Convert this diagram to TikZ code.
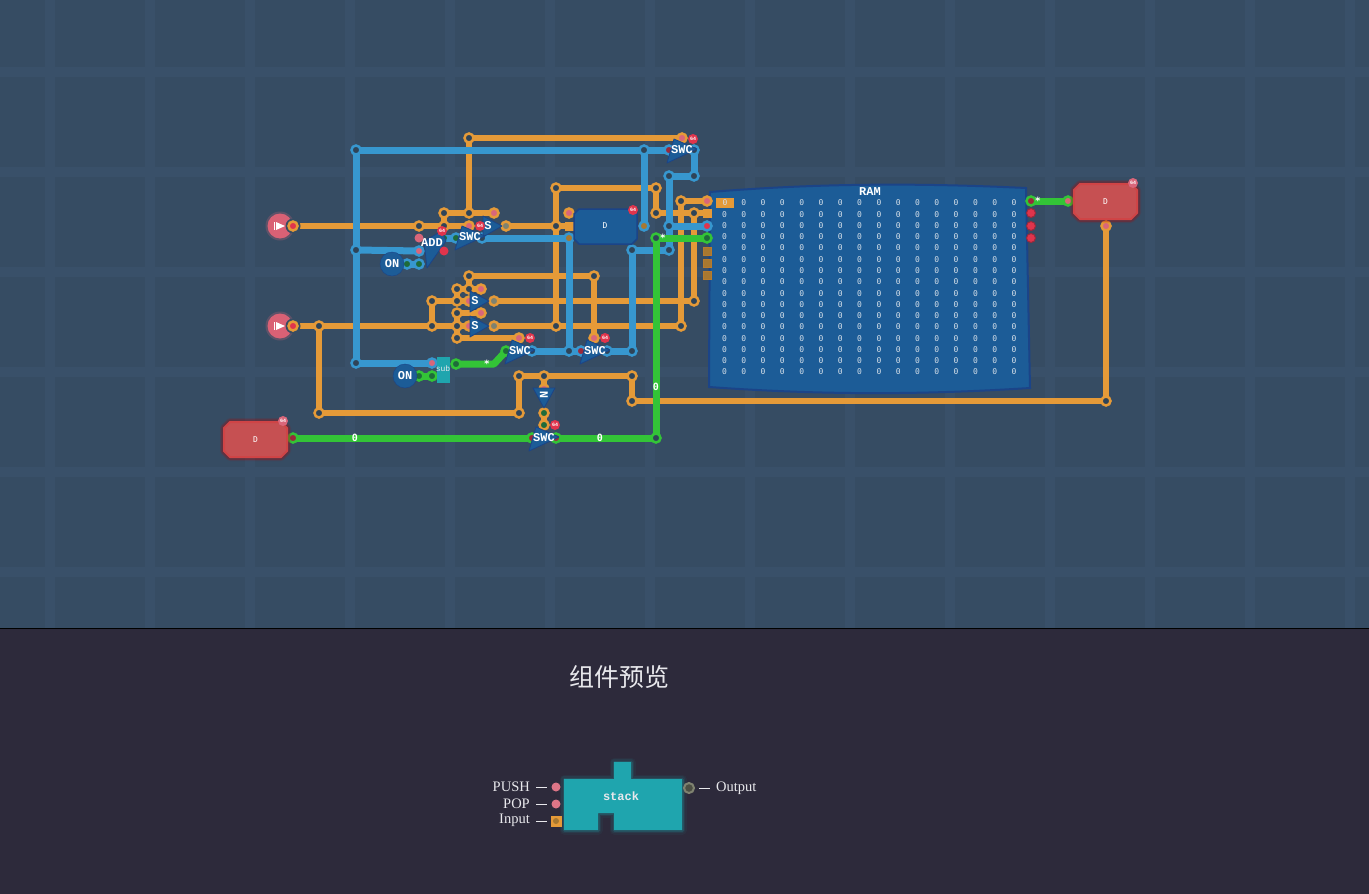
\documentclass[tikz,border=0pt]{standalone}
\usepackage{fontspec}
\newfontfamily\labelfont{Liberation Mono}
\newfontfamily\cellfont{DejaVu Sans Mono}
\newfontfamily\legendfont{Liberation Serif}
\newfontfamily\cjkfont{Noto Sans CJK SC}
\pgfdeclarelayer{grid}
\pgfdeclarelayer{wires}
\pgfsetlayers{grid,wires,main}
\definecolor{boardbg}{HTML}{364C63}
\definecolor{boardband}{HTML}{395069}
\definecolor{panelbg}{HTML}{2D2A3B}
\definecolor{wireorange}{HTML}{E59A38}
\definecolor{wireblue}{HTML}{3797CF}
\definecolor{wiregreen}{HTML}{33C437}
\definecolor{gateblue}{HTML}{1C5C97}
\definecolor{gateedge}{HTML}{1B4488}
\definecolor{blockred}{HTML}{C65052}
\definecolor{blockteal}{HTML}{1FA5AE}
\definecolor{pindark}{HTML}{2F4458}
\definecolor{pinpink}{HTML}{D9667A}
\definecolor{pinred}{HTML}{E0344C}
\definecolor{pinmaroon}{HTML}{9A2A3C}
\definecolor{pingreen}{HTML}{1E6B3A}
\definecolor{pingray}{HTML}{7F8270}
\definecolor{pinbrown}{HTML}{A87830}
\definecolor{textsoft}{HTML}{E8E8EC}
\tikzset{
	pinbase/.style={circle, inner sep=0pt, minimum size=9pt, line width=2.5pt},
	orpin/.style={pinbase, draw=wireorange, fill=#1},
	blpin/.style={pinbase, draw=wireblue, fill=#1},
	grpin/.style={pinbase, draw=wiregreen, fill=#1},
	wirebase/.style={shorten >=-3pt, shorten <=-3pt},
	orwire/.style={wirebase, draw=wireorange, line width=6pt},
	blwire/.style={wirebase, draw=wireblue, line width=7pt},
	grwire/.style={wirebase, draw=wiregreen, line width=7pt, line join=round},
	orsquare/.style={rectangle, inner sep=0pt, minimum size=9pt, fill=#1},
	baredot/.style={circle, inner sep=0pt, minimum size=9pt, fill=#1},
	badge/.style={circle, inner sep=0pt, minimum size=10pt, fill=pinred, text=white, font=\labelfont\bfseries\fontsize{5}{5}\selectfont},
	gatelabel/.style={inner sep=0pt, text=white, font=\labelfont\bfseries\fontsize{12}{12}\selectfont},
	wirelabel/.style={inner sep=0pt, text=white, font=\cellfont\bfseries\fontsize{10}{10}\selectfont},
	cell/.style={inner sep=0pt, text=textsoft!90!wireblue, font=\cellfont\fontsize{8}{8}\selectfont},
	legend/.style={inner sep=0pt, text=textsoft, font=\legendfont\fontsize{14.5}{15}\selectfont},
	gatefill/.style={fill=gateblue, draw=gateedge, line width=0.8pt, line join=round},
	swcgate/.pic={
		\path[gatefill] (-8,-11) -- (15,-1) -- (-15,13) -- cycle;
		\node[gatelabel] (-label) at (0,0) {#1};
	},
	sgate/.pic={
		\path[gatefill] (-5,-10) -- (14,0) -- (-5,11) -- cycle;
		\node[gatelabel] (-label) at (0,0) {#1};
	},
	redblock/.pic={
		\foreach \w/\o in {8/0.12, 5.5/0.25}{
			\draw[red!70!black, opacity=\o, line width=\w pt, line join=round] (-25.5,-17.5) -- (25.5,-17.5) -- (31.5,-11.5) -- (31.5,11.5) -- (25.5,17.5) -- (-25.5,17.5) -- (-31.5,11.5) -- (-31.5,-11.5) -- cycle;
		}
		\path[fill=blockred, draw=blockred!85!red, line width=2pt, line join=round] (-25.5,-17.5) -- (25.5,-17.5) -- (31.5,-11.5) -- (31.5,11.5) -- (25.5,17.5) -- (-25.5,17.5) -- (-31.5,11.5) -- (-31.5,-11.5) -- cycle;
		\node[cell, text=white] (-label) at (0,0) {D};
	}
}
\begin{document}
\begin{tikzpicture}[x=1pt, y=-1pt]
	\useasboundingbox (0,0) rectangle (1369,894);
	%board
	\begin{pgfonlayer}{grid}
		\fill[boardbg] (0,0) rectangle (1369,629);
		\foreach \x in {50, 150, ..., 1350}{
			\fill[boardband] (\x-5,0) rectangle (\x+5,629);
		}
		\foreach \y in {72, 172, ..., 572}{
			\fill[boardband] (0,\y-5) rectangle (1369,\y+5);
		}
		\fill[panelbg] (0,629) rectangle (1369,894);
		\draw[black, line width=1pt] (0,628.5) -- (1369,628.5);
	\end{pgfonlayer}

	%ram block
	\path[fill=gateblue, draw=gateedge, line width=2pt] (710,192) .. controls (820,183) and (920,183) .. (1026,188) -- (1030,388) .. controls (920,395) and (820,395) .. (709,387) -- cycle;
	\node[gatelabel] (ramlabel) at (870,192) {RAM};
	\foreach \i in {0, 1, ..., 15}{
		\foreach \j in {0, 1, ..., 15}{
			\node[cell] (cell\i-\j) at (724.5+19.3*\i, 203+11.27*\j) {0};
		}
	}
	\node[fill=wireorange, minimum width=18pt, minimum height=10pt, inner sep=0pt] (ramcursor) at (725,203) {};
	\node[cell] (ramzero) at (725,203) {0};

	%inputs
	\foreach \name/\y in {playa/226, playb/326}{
		\fill[pinpink, opacity=0.25] (280,\y) circle (14.5);
		\node (\name) at (280,\y) [circle, fill=pinpink!90!pinred, minimum size=25pt, inner sep=0pt]{};
		\fill[boardbg] (293,\y) circle (7.5);
		\fill[white] (276,\y-4) -- (285,\y) -- (276,\y+4) -- cycle;
		\draw[white, line width=0.8pt] (274.5,\y-4) -- (274.5,\y+4);
	}

	%orange pins
	\foreach \name/\x/\y/\c in {
		ina/293/226/pinred, ob/419/226/pindark, oc/444/226/pindark, sain/469/226/pinpink,
		od/444/213/pindark, oe/469/213/pindark, satop/494/213/pinpink, of/469/138/pindark, swctop/682/138/pinpink,
		saout/506/226/pingray, og/556/226/pindark, dtop/569/213/pinpink,
		oh/556/188/pindark, oi/656/188/pindark, oj/656/213/pindark, ok/694/213/pindark, ol/681/201/pindark, ramone/707/201/pinpink,
		inb/293/326/pinred, om/319/326/pindark, on/432/326/pindark, oo/457/326/pindark, sbin/469/326/pinpink, scout/494/326/pingray,
		op/556/326/pindark, oq/681/326/pindark,
		or/432/301/pindark, os/457/301/pindark, scin/469/301/pinpink, sbout/494/301/pingray, ot/694/301/pindark,
		ou/457/289/pindark, ov/469/289/pindark, sbtop/481/289/pinpink, ow/469/276/pindark, ox/594/276/pindark, swcctop/594/338/pinpink,
		oy/457/313/pindark, sctop/481/313/pinpink, oz/457/338/pindark, swcbtop/519/338/pinpink,
		pa/319/413/pindark, pb/519/413/pindark, pc/519/376/pindark, pd/544/376/pindark, pe/632/376/pindark, pf/632/401/pindark,
		pg/1106/401/pindark, dredin/1106/226/pinpink, pi/544/389/pinpink, pj/544/413/pingreen, pk/544/425/pingreen}{
		\node (\name) at (\x,\y) [orpin=\c]{};
	}
	\node (dsquare) at (569,226) [orsquare=wireorange]{};
	\node (ramtwo) at (707,213) [orsquare=wireorange]{};
	\foreach \name/\y in {ramfive/251, ramsix/263, ramseven/275}{
		\node (\name) at (707,\y) [orsquare=pinbrown, draw=wireorange!80!black, line width=1pt, minimum size=8pt]{};
	}

	%blue pins
	\foreach \name/\x/\y/\c in {
		ba/356/150/pindark, bb/644/150/pindark, swcain/669/150/pinmaroon, swcaout/694/150/pindark,
		bc/356/250/pindark, addb/419/251/pinpink, bd/356/363/pindark, subin/432/363/pinpink,
		be/644/226/pinbrown, bf/694/176/pindark, bg/669/176/pindark, bh/669/226/pindark, ramthree/707/226/pinred,
		bi/669/250/pindark, bj/632/250/pindark, bk/632/351/pindark, swccout/607/351/pindark, swccin/581/351/pinmaroon,
		bl/569/351/pindark, swcbout/532/351/pindark, dbot/569/238/pinbrown, swcdout/482/238/pindark,
		addout/456/238/pingreen, onaout/407/264/pingreen, addc/419/264/pingreen}{
		\node (\name) at (\x,\y) [blpin=\c]{};
	}

	%green pins
	\foreach \name/\x/\y/\c in {
		inc/293/438/pinmaroon, swcein/532/438/pinmaroon, swceout/556/438/pinmaroon, ga/656/438/pindark, gb/656/238/pindark,
		ramgreen/707/238/pingreen, subout/456/364/pingreen, swcbin/506/351/pingreen, ramout/1031/201/pinmaroon, dredleft/1068/201/pinpink,
		onbout/419/376/pingreen, subon/432/376/pingreen}{
		\node (\name) at (\x,\y) [grpin=\c]{};
	}
	\coordinate (gbend) at (494,364);
	\node[baredot=pingreen, minimum size=6pt] (addq) at (444,238) {};

	%wires
	\begin{pgfonlayer}{wires}
		\foreach \a/\b in {ina/ob, ob/oc, oc/sain, saout/og, og/dsquare, od/oc, od/oe, oe/satop, of/oe, of/swctop,
			oh/oi, oi/oj, oj/ok, ok/ramtwo, oh/og, og/op, inb/om, om/on, on/oo, oo/sbin, scout/op, op/oq, oq/ol, ol/ramone,
			or/on, or/os, os/scin, sbout/ot, ot/ok, ou/os, ou/ov, ov/sbtop, ow/ov, ow/ox, ox/swcctop,
			oy/sctop, oy/oo, oo/oz, oz/swcbtop, om/pa, pa/pb, pb/pc, pc/pd, pd/pe, pe/pf, pf/pg, pg/dredin, pd/pi, pj/pk}{
			\draw[orwire] (\a) -- (\b);
		}
		\foreach \a/\b in {ba/bb, bb/swcain, ba/bc, bc/bd, bd/subin, bc/addb, bb/be, swcaout/bf, bf/bg, bg/bh, bh/bi, bi/bj, bj/bk, bh/ramthree,
			bk/swccout, swccin/bl, bl/swcbout, bl/dbot, dbot/swcdout, addout/addq, onaout/addc}{
			\draw[blwire] (\a) -- (\b);
		}
		\foreach \a/\b in {inc/swcein, swceout/ga, ga/gb, gb/ramgreen, ramout/dredleft, onbout/subon}{
			\draw[grwire] (\a) -- (\b);
		}
		\draw[grwire] (subout) -- (gbend) -- (swcbin);
	\end{pgfonlayer}

	%add and on blocks
	\path[gatefill] (424,241) -- (442,231) -- (446,241) -- (427,268) -- cycle;
	\node[gatelabel] (addlabel) at (432,243) {ADD};
	\node[baredot=pinpink] (adda) at (419,238) {};
	\node[baredot=pinred] (addr) at (444,251) {};
	\node[circle, fill=gateblue, draw=gateedge, minimum size=24pt, inner sep=0pt] (onblocka) at (392,264) {};
	\node[gatelabel] (onlabela) at (onblocka) {ON};
	\node[circle, fill=gateblue, draw=gateedge, minimum size=24pt, inner sep=0pt] (onblockb) at (405,376) {};
	\node[gatelabel] (onlabelb) at (onblockb) {ON};

	%switches
	\pic (sa) at (488,226) {sgate={S}};
	\pic (swcd) at (470,237) {swcgate={SWC}};
	\pic (sb) at (475,301) {sgate={S}};
	\pic (sc) at (475,326) {sgate={S}};
	\pic (swca) at (682,150) {swcgate={SWC}};
	\pic (swcb) at (520,351) {swcgate={SWC}};
	\pic (swcc) at (595,351) {swcgate={SWC}};
	\pic (swce) at (544,438) {swcgate={SWC}};
	\path[gatefill] (533,388) -- (555,388) -- (544,408) -- cycle;
	\node[gatelabel, rotate=90] (notlabel) at (544,395) {N};

	%memory block
	\path[gatefill, line width=1.5pt] (579,209) -- (632,209) -- (637,214) -- (637,239) -- (632,244) -- (579,244) -- (574,239) -- (574,214) -- cycle;
	\node[cell, text=white] (dlabel) at (605,226) {D};

	%red blocks
	\pic (dred) at (1105.5,201.5) {redblock};
	\pic (dinput) at (255.5,439.5) {redblock};
	\foreach \name/\y in {rama/213, ramb/226, ramc/238}{
		\node (\name) at (1031,\y) [baredot=pinred, draw=pinmaroon, line width=1pt]{};
	}

	%sub block
	\fill[blockteal] (437,357) rectangle (450,383);
	\node[inner sep=0pt, text=textsoft, font=\labelfont\fontsize{8}{8}\selectfont] (sublabel) at (443,369) {sub};

	%badges
	\foreach \name/\x/\y in {bdga/693/139, bdgb/442/231, bdgc/480/226, bdgd/530/338, bdge/605/338, bdgf/555/425, bdgg/633/210}{
		\node[badge] (\name) at (\x,\y) {64};
	}
	\node[badge, fill=pinpink] (bdgh) at (1133,183) {64};
	\node[badge, fill=pinpink] (bdgi) at (283,421) {64};

	%wire labels
	\foreach \name/\x/\y/\t in {wla/355/438/0, wlb/600/438/0, wlc/656/387/0, wld/487/364/*, wle/663/238/*, wlf/1038/201/*}{
		\node[wirelabel] (\name) at (\x,\y) {\t};
	}

	%preview
	\node[text=textsoft, inner sep=0pt, font=\cjkfont\fontsize{25}{25}\selectfont] (previewtitle) at (619,677) {组件预览};
	\foreach \w/\o in {9/0.06, 6/0.1, 3/0.2}{
		\draw[blockteal, opacity=\o, line width=\w pt, line join=round] (564,779) -- (614,779) -- (614,762) -- (631,762) -- (631,779) -- (682,779) -- (682,830) -- (614,830) -- (614,813) -- (598,813) -- (598,830) -- (564,830) -- cycle;
	}
	\fill[blockteal] (564,779) -- (614,779) -- (614,762) -- (631,762) -- (631,779) -- (682,779) -- (682,830) -- (614,830) -- (614,813) -- (598,813) -- (598,830) -- (564,830) -- cycle;
	\node[inner sep=0pt, text=textsoft, font=\labelfont\bfseries\fontsize{12}{12}\selectfont] (stacklabel) at (621,796) {stack};
	\node[baredot=pinpink!90!white] (pushpin) at (556,787) {};
	\node[baredot=pinpink!90!white] (poppin) at (556,804) {};
	\node[orsquare=wireorange, minimum size=11pt] (inputpin) at (556,821) {};
	\node[baredot=pinbrown, minimum size=6pt] (inputdot) at (556,821) {};
	\node[circle, fill=pingray!60!black, draw=pingray, line width=2pt, minimum size=10pt, inner sep=0pt] (outpin) at (689,788) {};
	\node[legend, anchor=east] (pushtext) at (530,787) {PUSH};
	\node[legend, anchor=east] (poptext) at (530,804) {POP};
	\node[legend, anchor=east] (inputtext) at (530,820) {Input};
	\node[legend, anchor=west] (outtext) at (716,788) {Output};
	\coordinate (pushdash) at (536,787);
	\coordinate (popdash) at (536,804);
	\coordinate (inputdash) at (536,821);
	\coordinate (outdash) at (699,788);
	\draw[textsoft, line width=1pt] (pushdash) -- ++(11,0);
	\draw[textsoft, line width=1pt] (popdash) -- ++(11,0);
	\draw[textsoft, line width=1pt] (inputdash) -- ++(11,0);
	\draw[textsoft, line width=1pt] (outdash) -- ++(11,0);
\end{tikzpicture}
\end{document}
